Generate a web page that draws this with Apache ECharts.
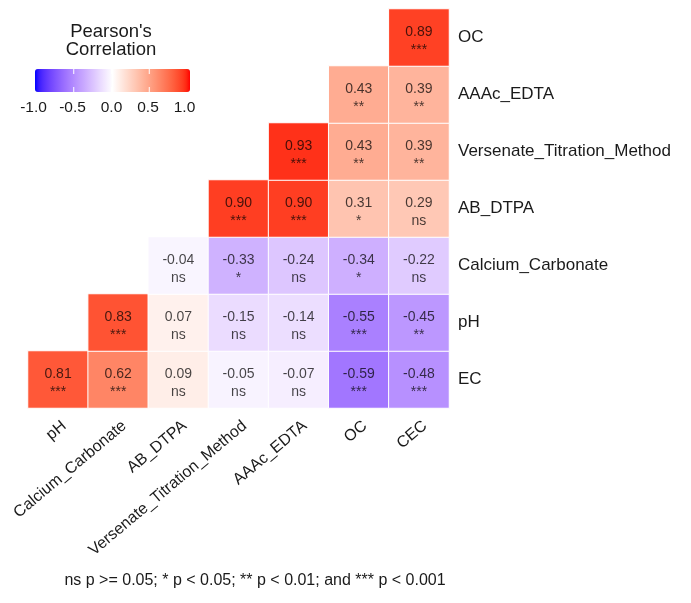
<!DOCTYPE html>
<html>
<head>
<meta charset="utf-8">
<script src="https://cdn.jsdelivr.net/npm/echarts@6/dist/echarts.min.js"></script>
<style>
html,body{margin:0;padding:0;background:#fff;}
#chart{width:691px;height:603px;}
</style>
</head>
<body>
<div id="chart"></div>
<script>
// Categories
const xCats = ['pH','Calcium_Carbonate','AB_DTPA','Versenate_Titration_Method','AAAc_EDTA','OC','CEC'];
const yCats = ['EC','pH','Calcium_Carbonate','AB_DTPA','Versenate_Titration_Method','AAAc_EDTA','OC']; // bottom -> top

// Correlation values per row (columns follow xCats); null = empty
const rowEC    = [0.81, 0.62, 0.09, -0.05, -0.07, -0.59, -0.48];
const rowPH    = [null, 0.83, 0.07, -0.15, -0.14, -0.55, -0.45];
const rowCaCO3 = [null, null, -0.04, -0.33, -0.24, -0.34, -0.22];
const rowAB    = [null, null, null, 0.90, 0.90, 0.31, 0.29];
const rowVers  = [null, null, null, null, 0.93, 0.43, 0.39];
const rowAAAc  = [null, null, null, null, null, 0.43, 0.39];
const rowOC    = [null, null, null, null, null, null, 0.89];

// Significance per row
const sigEC    = ['***','***','ns','ns','ns','***','***'];
const sigPH    = [null,'***','ns','ns','ns','***','**'];
const sigCaCO3 = [null,null,'ns','*','ns','*','ns'];
const sigAB    = [null,null,null,'***','***','*','ns'];
const sigVers  = [null,null,null,null,'***','**','**'];
const sigAAAc  = [null,null,null,null,null,'**','**'];
const sigOC    = [null,null,null,null,null,null,'***'];

const legendTicks = [-1.0, -0.5, 0.0, 0.5, 1.0];
const footnote = 'ns p >= 0.05; * p < 0.05; ** p < 0.01; and *** p < 0.001';

const valueRows = [rowEC, rowPH, rowCaCO3, rowAB, rowVers, rowAAAc, rowOC];
const sigRows = [sigEC, sigPH, sigCaCO3, sigAB, sigVers, sigAAAc, sigOC];

// Lab interpolation (like ggplot2's gradient2)
function srgbToLin(c){c/=255;return c<=0.04045?c/12.92:Math.pow((c+0.055)/1.055,2.4);}
function linToSrgb(c){c=c<=0.0031308?12.92*c:1.055*Math.pow(c,1/2.4)-0.055;return Math.max(0,Math.min(255,Math.round(c*255)));}
const Xn=0.95047,Yn=1,Zn=1.08883;
function f(t){return t>0.008856?Math.cbrt(t):7.787*t+16/116;}
function finv(t){return t>0.206893?t*t*t:(t-16/116)/7.787;}
function rgb2lab(r,g,b){
  r=srgbToLin(r);g=srgbToLin(g);b=srgbToLin(b);
  const X=r*0.4124564+g*0.3575761+b*0.1804375;
  const Y=r*0.2126729+g*0.7151522+b*0.0721750;
  const Z=r*0.0193339+g*0.1191920+b*0.9503041;
  const fx=f(X/Xn),fy=f(Y/Yn),fz=f(Z/Zn);
  return [116*fy-16,500*(fx-fy),200*(fy-fz)];
}
function lab2rgb(L,a,bb){
  const fy=(L+16)/116,fx=fy+a/500,fz=fy-bb/200;
  const X=finv(fx)*Xn,Y=finv(fy)*Yn,Z=finv(fz)*Zn;
  const r= 3.2404542*X-1.5371385*Y-0.4985314*Z;
  const g=-0.9692660*X+1.8760108*Y+0.0415560*Z;
  const b= 0.0556434*X-0.2040259*Y+1.0572252*Z;
  const h=v=>linToSrgb(v).toString(16).padStart(2,'0');
  return '#'+h(r)+h(g)+h(b);
}
const labBlue=rgb2lab(0,0,255), labWhite=rgb2lab(255,255,255), labRed=rgb2lab(255,0,0);
function mix(a,b,t){return [a[0]+(b[0]-a[0])*t,a[1]+(b[1]-a[1])*t,a[2]+(b[2]-a[2])*t];}
const colorStops=[];
for(let i=0;i<=40;i++){
  const v=-1+i*0.05;
  const lab = v<0 ? mix(labWhite,labBlue,-v) : mix(labWhite,labRed,v);
  colorStops.push(lab2rgb(lab[0],lab[1],lab[2]));
}

const data=[];
valueRows.forEach((row,yi)=>{
  row.forEach((v,xi)=>{
    if(v!==null) data.push({value:[xi,yi,v], sig:sigRows[yi][xi]});
  });
});

const FONT='"Liberation Sans", Arial, sans-serif';
const TXT='#1a1a1a';
const chart=echarts.init(document.getElementById('chart'),null,{renderer:'canvas'});

// legend geometry
const barL=35, barR=190, barT=69, barB=92;
const tickX=v=>barL+1+(v+1)/2*(barR-barL-4);
const graphics=[];
graphics.push({type:'text',x:111,y:32,style:{text:"Pearson's",font:'18.5px '+FONT,fill:TXT,textAlign:'center',textVerticalAlign:'middle'}});
graphics.push({type:'text',x:111,y:50,style:{text:'Correlation',font:'18.5px '+FONT,fill:TXT,textAlign:'center',textVerticalAlign:'middle'}});
legendTicks.forEach(t=>{
  graphics.push({type:'text',x:tickX(t)-Math.abs(t)*2.5,y:108,style:{text:t.toFixed(1),font:'15.5px '+FONT,fill:TXT,textAlign:'center',textVerticalAlign:'middle'}});
  if(t>-1 && t<1){
    graphics.push({type:'line',shape:{x1:tickX(t),y1:barT,x2:tickX(t),y2:barT+5},style:{stroke:'#fff',lineWidth:1},z:100});
    graphics.push({type:'line',shape:{x1:tickX(t),y1:barB-5,x2:tickX(t),y2:barB},style:{stroke:'#fff',lineWidth:1},z:100});
  }
});
graphics.push({type:'text',x:255,y:581,style:{text:footnote,font:'16px '+FONT,fill:TXT,textAlign:'center',textVerticalAlign:'middle'}});

chart.setOption({
  animation:false,
  backgroundColor:'#fff',
  textStyle:{fontFamily:FONT},
  grid:{left:28,right:242,top:9,bottom:195},
  xAxis:{type:'category',data:xCats,axisLine:{show:false},axisTick:{show:false},splitLine:{show:false},
    axisLabel:{rotate:40,fontSize:16,color:TXT,margin:21,interval:0,fontFamily:FONT,padding:[0,-8,0,0]}},
  yAxis:{type:'category',data:yCats,position:'right',axisLine:{show:false},axisTick:{show:false},splitLine:{show:false},
    axisLabel:{fontSize:17,color:TXT,margin:9,interval:0,fontFamily:FONT,padding:[3,0,0,0]}},
  visualMap:{type:'continuous',min:-1,max:1,dimension:2,orient:'horizontal',
    left:barL,top:barT,itemWidth:barB-barT,itemHeight:barR-barL,padding:0,
    calculable:false,text:null,showLabel:false,hoverLink:false,
    inRange:{color:colorStops}},
  graphic:graphics,
  series:[{type:'heatmap',data:data,
    itemStyle:{borderColor:'#fff',borderWidth:1},
    label:{show:true,fontFamily:FONT,offset:[0,4],
      formatter:p=>'{v|'+p.data.value[2].toFixed(2)+'}\n{s|'+p.data.sig+'}',
      rich:{v:{fontSize:14,color:'rgba(0,0,0,0.72)',lineHeight:18,fontFamily:FONT},
            s:{fontSize:14,color:'rgba(0,0,0,0.72)',lineHeight:18,fontFamily:FONT}}},
    emphasis:{disabled:true}}]
});
</script>
</body>
</html>
